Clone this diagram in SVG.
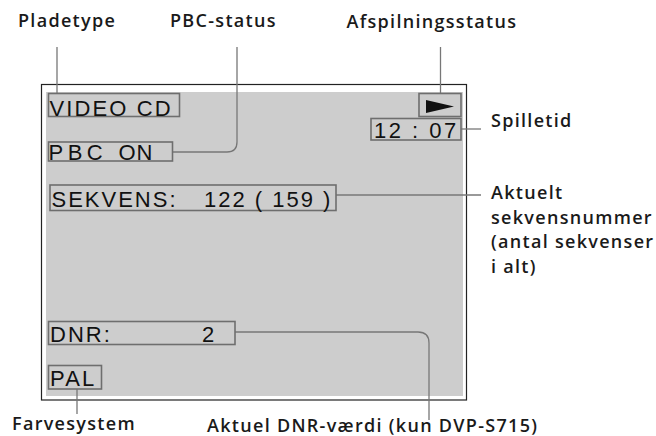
<svg xmlns="http://www.w3.org/2000/svg" width="656" height="436" viewBox="0 0 656 436">
<style>
.lbl{font-family:"Open Sans","Noto Sans",sans-serif;font-weight:600;font-size:18px;letter-spacing:1.3px;fill:#1a1a1a}
.disp{font-family:"Liberation Sans",Arial,sans-serif;font-size:22px;fill:#111}
.box{fill:none;stroke:#6e6e6e;stroke-width:1.6}
.conn{fill:none;stroke:#777;stroke-width:1.3}
</style>
<rect width="656" height="436" fill="#fff"/>
<g id="screen">
<rect x="41.5" y="84.5" width="425" height="315.5" fill="#fff" stroke="#222" stroke-width="1.2"/>
<rect x="46" y="92" width="417" height="304" fill="#cdcdcd"/>
</g>
<g id="connectors">
<path class="conn" d="M57 47V93"/>
<path class="conn" d="M173 152H227Q237 152 237 142V47"/>
<path class="conn" d="M440.5 47V93"/>
<path class="conn" d="M461 129H481"/>
<path class="conn" d="M336 195H481"/>
<path class="conn" d="M235 332H418Q429 332 429 343V420"/>
<path class="conn" d="M77 389V414"/>
</g>
<g id="videocd">
<rect class="box" x="48.5" y="93.5" width="131" height="23"/>
<text class="disp" x="49.5" y="115.5" letter-spacing="2.1">VIDEO CD</text>
</g>
<g id="pbcon">
<rect class="box" x="48.5" y="142" width="124" height="19"/>
<text class="disp" y="159.5"><tspan x="48.5" letter-spacing="4.5">PBC</tspan> <tspan x="118.5" letter-spacing="1">ON</tspan></text>
</g>
<g id="play">
<rect class="box" x="419" y="93.5" width="42" height="23"/>
<polygon points="426,100 454,106.5 426,113" fill="#111"/>
</g>
<g id="time">
<rect class="box" x="371" y="118.5" width="90" height="21.5"/>
<text class="disp" x="374" y="137.5" letter-spacing="2.5">12 : 07</text>
</g>
<g id="sekvens">
<rect class="box" x="50" y="185" width="286" height="25.5"/>
<text class="disp" y="206.5" letter-spacing="2"><tspan x="51.5">SEKVENS:</tspan> <tspan x="204">122 ( 159 )</tspan></text>
</g>
<g id="dnr">
<rect class="box" x="48.5" y="321.5" width="186.5" height="23"/>
<text class="disp" y="341.5" letter-spacing="2"><tspan x="50">DNR:</tspan> <tspan x="202">2</tspan></text>
</g>
<g id="pal">
<rect class="box" x="48.5" y="365.5" width="53" height="23.5"/>
<text class="disp" x="50" y="386" letter-spacing="2.2">PAL</text>
</g>
<g id="labels">
<text class="lbl" x="18" y="27">Pladetype</text>
<text class="lbl" x="170" y="27">PBC-status</text>
<text class="lbl" x="346.5" y="27.5">Afspilningsstatus</text>
<text class="lbl" x="491" y="126.5">Spilletid</text>
<text class="lbl" x="491"><tspan x="491" y="199">Aktuelt</tspan><tspan x="491" y="223.5">sekvensnummer</tspan><tspan x="491" y="248">(antal sekvenser</tspan><tspan x="491" y="272.5">i alt)</tspan></text>
<text class="lbl" x="12" y="430">Farvesystem</text>
<text class="lbl" x="207" y="432">Aktuel DNR-værdi (kun DVP-S715)</text>
</g>
</svg>
